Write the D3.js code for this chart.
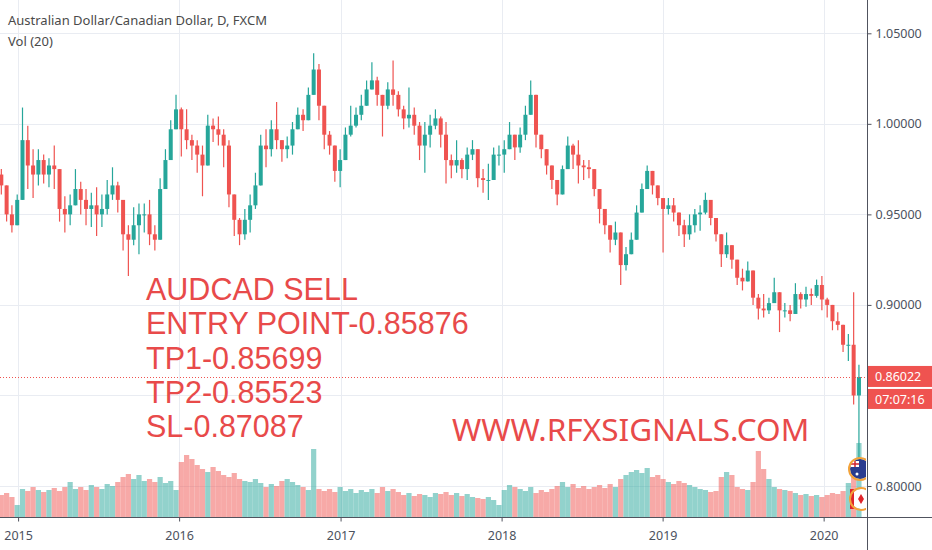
<!DOCTYPE html>
<html>
<head>
<meta charset="utf-8">
<script src="https://cdn.jsdelivr.net/npm/d3@7"></script>
<style>
html, body { margin: 0; padding: 0; background: #fff; }
svg { display: block; font-family: "Noto Sans", sans-serif; }
</style>
</head>
<body>
<svg id="chart" width="932" height="550"></svg>
<script>
// AUD/CAD candles, one candle every 12 days starting 24 Nov 2014
var startDate = new Date(2014, 10, 24);
var stepDays = 12;
var firstOpen = 0.972;

var closes = [
  0.966, 0.950, 0.944, 0.958, 0.991, 0.977, 0.972, 0.980, 0.972, 0.977,
  0.975, 0.953, 0.950, 0.955, 0.964, 0.958, 0.953, 0.955, 0.950, 0.953,
  0.961, 0.966, 0.958, 0.939, 0.936, 0.944, 0.950, 0.950, 0.939, 0.936,
  0.964, 0.980, 0.997, 1.008, 0.997, 0.991, 0.988, 0.983, 0.977, 0.999,
  0.997, 0.994, 0.988, 0.961, 0.947, 0.939, 0.947, 0.955, 0.966, 0.988,
  0.986, 0.997, 0.991, 0.986, 0.988, 0.997, 1.005, 1.002, 1.016, 1.030,
  1.010, 0.994, 0.988, 0.974, 0.980, 0.994, 0.999, 1.005, 1.010, 1.019,
  1.024, 1.016, 1.010, 1.019, 1.016, 1.008, 1.003, 1.005, 0.999, 0.988,
  0.994, 0.999, 1.003, 0.994, 0.980, 0.977, 0.980, 0.975, 0.983, 0.986,
  0.970, 0.969, 0.969, 0.983, 0.983, 0.986, 0.994, 0.987, 0.994, 1.005,
  1.016, 0.994, 0.986, 0.977, 0.969, 0.961, 0.975, 0.988, 0.983, 0.977,
  0.976, 0.975, 0.964, 0.953, 0.944, 0.936, 0.940, 0.922, 0.928, 0.936,
  0.951, 0.964, 0.974, 0.966, 0.959, 0.953, 0.955, 0.951, 0.944, 0.939,
  0.944, 0.950, 0.951, 0.958, 0.948, 0.939, 0.928, 0.933, 0.925, 0.915,
  0.913, 0.919, 0.904, 0.898, 0.897, 0.901, 0.907, 0.897, 0.897, 0.895,
  0.906, 0.903, 0.906, 0.905, 0.911, 0.903, 0.900, 0.891, 0.889, 0.878,
  0.878, 0.850, 0.8602
];

var highs = [
  0.975, 0.961, 0.955, 0.961, 1.009, 0.999, 0.986, 0.986, 0.983, 0.981,
  0.988, 0.969, 0.960, 0.961, 0.975, 0.968, 0.964, 0.962, 0.965, 0.961,
  0.969, 0.976, 0.968, 0.955, 0.944, 0.954, 0.956, 0.956, 0.958, 0.944,
  0.970, 0.986, 1.002, 1.016, 1.009, 1.008, 0.994, 0.991, 0.988, 1.005,
  1.003, 1.004, 0.997, 0.991, 0.961, 0.948, 0.953, 0.961, 0.973, 0.994,
  0.997, 1.002, 1.012, 0.991, 0.993, 1.001, 1.009, 1.008, 1.020, 1.039,
  1.033, 1.005, 0.996, 0.983, 0.986, 0.998, 1.010, 1.009, 1.016, 1.024,
  1.034, 1.026, 1.016, 1.023, 1.035, 1.018, 1.010, 1.020, 1.009, 1.001,
  1.001, 1.005, 1.008, 1.004, 1.001, 0.983, 0.991, 0.981, 0.987, 0.991,
  0.983, 0.975, 0.978, 0.987, 0.988, 0.991, 1.001, 0.994, 0.998, 1.010,
  1.024, 1.008, 0.991, 0.983, 0.976, 0.968, 0.977, 0.993, 0.989, 0.991,
  0.980, 0.980, 0.972, 0.961, 0.950, 0.943, 0.946, 0.936, 0.932, 0.940,
  0.955, 0.967, 0.977, 0.974, 0.965, 0.958, 0.959, 0.959, 0.950, 0.947,
  0.950, 0.953, 0.955, 0.962, 0.955, 0.946, 0.935, 0.940, 0.932, 0.922,
  0.920, 0.924, 0.917, 0.906, 0.906, 0.904, 0.915, 0.906, 0.901, 0.900,
  0.912, 0.907, 0.910, 0.909, 0.914, 0.916, 0.904, 0.900, 0.896, 0.889,
  0.884, 0.907, 0.867
];

var lows = [
  0.961, 0.946, 0.940, 0.944, 0.972, 0.964, 0.959, 0.966, 0.967, 0.965,
  0.964, 0.946, 0.940, 0.944, 0.955, 0.950, 0.944, 0.943, 0.938, 0.943,
  0.950, 0.958, 0.951, 0.930, 0.916, 0.933, 0.928, 0.940, 0.933, 0.930,
  0.941, 0.969, 0.980, 0.999, 0.982, 0.986, 0.980, 0.973, 0.960, 0.986,
  0.990, 0.988, 0.976, 0.954, 0.938, 0.933, 0.936, 0.940, 0.953, 0.969,
  0.976, 0.982, 0.986, 0.979, 0.981, 0.983, 0.998, 0.996, 1.002, 1.020,
  1.002, 0.986, 0.983, 0.968, 0.965, 0.985, 0.993, 0.998, 1.002, 1.013,
  1.019, 1.010, 0.993, 1.008, 1.010, 1.004, 0.997, 0.998, 0.994, 0.980,
  0.973, 0.987, 0.997, 0.987, 0.967, 0.970, 0.973, 0.970, 0.969, 0.980,
  0.965, 0.962, 0.958, 0.973, 0.977, 0.973, 0.988, 0.980, 0.984, 0.991,
  1.006, 0.987, 0.981, 0.972, 0.964, 0.955, 0.964, 0.980, 0.975, 0.967,
  0.969, 0.970, 0.960, 0.945, 0.939, 0.929, 0.933, 0.911, 0.919, 0.928,
  0.941, 0.955, 0.965, 0.961, 0.955, 0.929, 0.950, 0.946, 0.938, 0.932,
  0.936, 0.940, 0.941, 0.950, 0.944, 0.935, 0.921, 0.926, 0.920, 0.911,
  0.908, 0.913, 0.900, 0.892, 0.893, 0.895, 0.901, 0.885, 0.893, 0.891,
  0.900, 0.898, 0.899, 0.900, 0.904, 0.897, 0.893, 0.886, 0.886, 0.874,
  0.869, 0.845, 0.813
];

// volume, thousands of lots
var volumes = [
  22, 24, 20, 12, 28, 26, 30, 27, 25, 27,
  29, 26, 30, 35, 28, 30, 27, 32, 30, 28,
  33, 31, 35, 40, 43, 38, 42, 36, 38, 35,
  40, 34, 36, 27, 55, 62, 58, 52, 48, 45,
  50, 46, 42, 40, 44, 38, 36, 35, 38, 34,
  30, 33, 31, 36, 38, 35, 32, 30, 27, 68,
  28, 26, 28, 25, 30, 26, 28, 24, 27, 25,
  28, 24, 30, 26, 28, 25, 22, 24, 21, 23,
  22, 20, 24, 23, 25, 22, 24, 21, 23, 20,
  19, 18, 20, 17, 12, 27, 32, 30, 28, 26,
  30, 24, 27, 25, 28, 31, 35, 30, 33, 29,
  31, 28, 30, 32, 29, 33, 30, 38, 42, 45,
  47, 44, 49, 40, 42, 38, 35, 33, 36, 34,
  32, 30, 28, 27, 25, 26, 40, 45, 42, 30,
  28, 27, 35, 66, 48, 38, 30, 28, 27, 26,
  24, 22, 23, 21, 22, 20, 22, 24, 23, 26,
  34, 44, 74
];

var gridPrices = [0.80, 0.85, 0.90, 0.95, 1.00, 1.05];
var labelPrices = [0.80, 0.90, 0.95, 1.00, 1.05];   // 0.85 sits under the price label
var yearTicks = [2015, 2016, 2017, 2018, 2019, 2020];
var signalLines = ["AUDCAD SELL", "ENTRY POINT-0.85876", "TP1-0.85699", "TP2-0.85523", "SL-0.87087"];
var siteText = "WWW.RFXSIGNALS.COM";
var titleText = "Australian Dollar/Canadian Dollar, D, FXCM";
var volText = "Vol (20)";
var lastPrice = 0.86022;
var countdown = "07:07:16";

var upColor = "#26a69a", downColor = "#ef5350";
var plotRight = 867, plotBottom = 517;

var candles = closes.map(function(c, i) {
    var dt = new Date(startDate);
    dt.setDate(dt.getDate() + i * stepDays);
    return {
        date: dt,
        open: i == 0 ? firstOpen : closes[i - 1],
        close: c,
        high: highs[i],
        low: lows[i],
        vol: volumes[i]
    };
});

var xScale = d3.scaleTime()
    .domain([new Date(2014, 10, 21), new Date(2020, 3, 6)])
    .range([0, 866]);
var yScale = d3.scaleLinear().domain([0.80, 1.05]).range([486, 33.3]);
var vScale = d3.scaleLinear().domain([0, d3.max(volumes)]).range([plotBottom, 443]);

var svg = d3.select("#chart");

svg.append("clipPath").attr("id", "plotClip")
    .append("rect").attr("x", 0).attr("y", 0)
    .attr("width", plotRight - 1).attr("height", plotBottom);

// gridlines
var grid = svg.append("g");
yearTicks.forEach(function(yr) {
    var gx = Math.round(xScale(new Date(yr, 0, 1))) + 0.5;
    grid.append("line").attr("x1", gx).attr("x2", gx).attr("y1", 0).attr("y2", plotBottom)
        .attr("stroke", "#e9ecf2").attr("stroke-width", 1);
});
gridPrices.forEach(function(p) {
    var gy = Math.round(yScale(p)) + 0.5;
    grid.append("line").attr("x1", 0).attr("x2", plotRight).attr("y1", gy).attr("y2", gy)
        .attr("stroke", "#e9ecf2").attr("stroke-width", 1);
});

var plot = svg.append("g").attr("clip-path", "url(#plotClip)");

// volume bars
plot.append("g").selectAll("rect").data(candles).enter().append("rect")
    .attr("x", function(d) { return xScale(d.date) - 2.6; })
    .attr("width", 5.2)
    .attr("y", function(d) { return vScale(d.vol); })
    .attr("height", function(d) { return plotBottom - vScale(d.vol); })
    .attr("fill", function(d) { return d.close >= d.open ? "rgba(38,166,154,0.5)" : "rgba(239,83,80,0.5)"; });

// candles
var cg = plot.append("g");
cg.selectAll("line").data(candles).enter().append("line")
    .attr("x1", function(d) { return xScale(d.date); })
    .attr("x2", function(d) { return xScale(d.date); })
    .attr("y1", function(d) { return yScale(Math.max(d.high, d.open, d.close)); })
    .attr("y2", function(d) { return yScale(Math.min(d.low, d.open, d.close)); })
    .attr("stroke", function(d) { return d.close >= d.open ? upColor : downColor; })
    .attr("stroke-width", 1.2);
cg.selectAll("rect").data(candles).enter().append("rect")
    .attr("x", function(d) { return xScale(d.date) - 2; })
    .attr("width", 4)
    .attr("y", function(d) { return yScale(Math.max(d.open, d.close)); })
    .attr("height", function(d) { return Math.max(1, Math.abs(yScale(d.open) - yScale(d.close))); })
    .attr("fill", function(d) { return d.close >= d.open ? upColor : downColor; });

// last price line
var ly = Math.round(yScale(lastPrice)) + 0.5;
svg.append("line").attr("x1", 0).attr("x2", plotRight).attr("y1", ly).attr("y2", ly)
    .attr("stroke", downColor).attr("stroke-width", 1).attr("stroke-dasharray", "1,2");

// signal text, one block with a tspan per line (compact line metrics so lines don't collide)
var sig = svg.append("g").attr("fill", "#e84a4a");
var block = sig.append("text").attr("x", 146).attr("y", 300)
    .style("font-family", "Liberation Sans").style("font-size", "30.5px");
signalLines.forEach(function(t, i) {
    block.append("tspan").attr("x", 146).attr("dy", i == 0 ? 0 : 34.3).text(t);
});
sig.append("text").attr("x", 452).attr("y", 441).style("font-size", "31.5px").text(siteText);

// currency flags next to the last bar
var flags = svg.append("g").attr("clip-path", "url(#plotClip)");
flags.append("circle").attr("cx", 860).attr("cy", 469).attr("r", 10).attr("fill", "#2a3c8f");
flags.append("rect").attr("x", 851).attr("y", 461).attr("width", 8).attr("height", 6).attr("fill", "#fff");
flags.append("line").attr("x1", 855).attr("x2", 855).attr("y1", 461).attr("y2", 467).attr("stroke", "#d0202e").attr("stroke-width", 1.5);
flags.append("line").attr("x1", 851).attr("x2", 859).attr("y1", 464).attr("y2", 464).attr("stroke", "#d0202e").attr("stroke-width", 1.5);
flags.append("circle").attr("cx", 857).attr("cy", 474).attr("r", 1.5).attr("fill", "#fff");
flags.append("circle").attr("cx", 860).attr("cy", 469).attr("r", 11).attr("fill", "none")
    .attr("stroke", "#f3a33a").attr("stroke-width", 2);
flags.append("circle").attr("cx", 861).attr("cy", 499).attr("r", 10).attr("fill", "#fff");
flags.append("rect").attr("x", 850).attr("y", 489).attr("width", 4).attr("height", 20).attr("fill", "#e0252b");
flags.append("path").attr("d", "M861,494 L864,499 L861,504 L858,499 Z").attr("fill", "#e0252b");
flags.append("circle").attr("cx", 861).attr("cy", 499).attr("r", 11).attr("fill", "none")
    .attr("stroke", "#f3a33a").attr("stroke-width", 2);

// axes
var axisColor = "#50535e", labelColor = "#4c525e";
var yAxis = d3.axisRight(yScale).tickValues(labelPrices).tickFormat(d3.format(".5f")).tickSize(4).tickPadding(4);
var yg = svg.append("g").attr("transform", "translate(" + (plotRight + 0.5) + ",0)").call(yAxis);
var xAxis = d3.axisBottom(xScale)
    .tickValues(yearTicks.map(function(yr) { return new Date(yr, 0, 1); }))
    .tickFormat(d3.timeFormat("%Y")).tickSize(4).tickPadding(10);
var xg = svg.append("g").attr("transform", "translate(0," + (plotBottom + 0.5) + ")").call(xAxis);
[yg, xg].forEach(function(g) {
    g.select(".domain").remove();
    g.selectAll(".tick line").attr("stroke", axisColor);
    g.selectAll(".tick text").attr("fill", labelColor).style("font-size", "12.5px").style("font-family", "Noto Sans");
});
svg.append("line").attr("x1", plotRight + 0.5).attr("x2", plotRight + 0.5).attr("y1", 0).attr("y2", 550)
    .attr("stroke", axisColor).attr("stroke-width", 1);
svg.append("line").attr("x1", 0).attr("x2", 932).attr("y1", plotBottom + 0.5).attr("y2", plotBottom + 0.5)
    .attr("stroke", axisColor).attr("stroke-width", 1);

// price + countdown labels
var boxY = yScale(lastPrice) - 11;
svg.append("rect").attr("x", plotRight + 1).attr("y", boxY).attr("width", 932 - plotRight).attr("height", 21).attr("fill", downColor);
svg.append("text").attr("x", 875).attr("y", boxY + 15).attr("fill", "#fff").style("font-size", "12.5px").text(d3.format(".5f")(lastPrice));
svg.append("rect").attr("x", plotRight + 1).attr("y", boxY + 23).attr("width", 932 - plotRight).attr("height", 20).attr("fill", downColor);
svg.append("text").attr("x", 875).attr("y", boxY + 38).attr("fill", "#fff").style("font-size", "12.5px").text(countdown);

// legend
svg.append("text").attr("x", 8).attr("y", 25).attr("fill", "#4a4a4a").style("font-size", "13px").text(titleText);
svg.append("text").attr("x", 8).attr("y", 46).attr("fill", "#4a4a4a").style("font-size", "13px").text(volText);
</script>
</body>
</html>
